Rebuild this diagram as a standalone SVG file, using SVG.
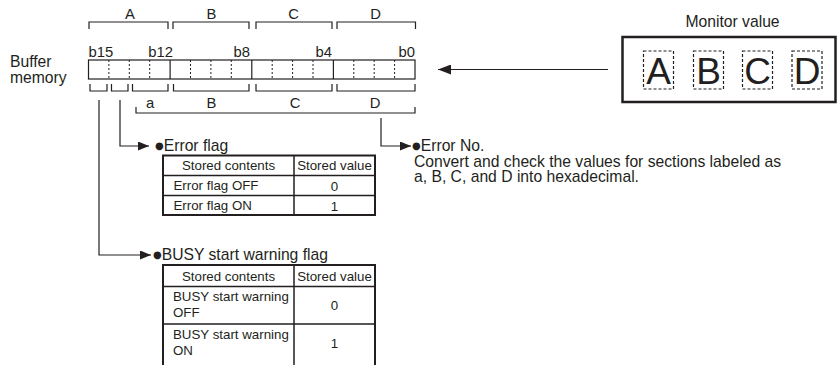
<svg xmlns="http://www.w3.org/2000/svg" width="837" height="365" viewBox="0 0 837 365">
<defs>
<style>
text{font-family:"Liberation Sans",Arial,sans-serif;fill:#231f20}
.t15{font-size:15.7px}
.t14{font-size:14.8px}
.t13{font-size:13.3px}
.bul{font-family:"DejaVu Sans",sans-serif;font-size:10px}
.mid{text-anchor:middle}
.end{text-anchor:end}
.ln{fill:none;stroke:#231f20;stroke-width:1.2}
.dash{fill:none;stroke:#231f20;stroke-width:1;stroke-dasharray:2,2}
.tbl{fill:#fff;stroke:#231f20;stroke-width:2}
.tin{stroke:#231f20;stroke-width:1.5}
.conn{fill:none;stroke:#231f20;stroke-width:1.2}
.box{fill:none;stroke:#231f20;stroke-width:1.2;stroke-dasharray:3,2}
</style>
<marker id="ah" markerUnits="userSpaceOnUse" markerWidth="11" markerHeight="9" refX="11" refY="4.5" orient="auto">
<path d="M0,0 L11,4.5 L0,9 z" fill="#231f20"/>
</marker>
<marker id="ahL" markerUnits="userSpaceOnUse" markerWidth="13" markerHeight="10" refX="13" refY="5" orient="auto">
<path d="M0,0 L13,5 L0,10 z" fill="#231f20"/>
</marker>
</defs>
<rect width="837" height="365" fill="#fff"/>

<g id="buffer-label">
<text class="t15" x="10" y="67">Buffer</text>
<text class="t15" x="10" y="83">memory</text>
</g>

<g id="register">
<g class="t14">
<text class="mid" x="130" y="19">A</text>
<text class="mid" x="211.5" y="19">B</text>
<text class="mid" x="293.5" y="19">C</text>
<text class="mid" x="375.5" y="19">D</text>
</g>
<path class="ln" d="M89,29V22H168V29M173,29V22H249V29M256,29V22H332V29M337,29V22H415.5V29"/>
<g class="t14">
<text x="88.5" y="56.5">b15</text>
<text class="end" x="173" y="56.5">b12</text>
<text class="end" x="250" y="56.5">b8</text>
<text class="end" x="332" y="56.5">b4</text>
<text class="end" x="415" y="56.5">b0</text>
</g>
<path class="dash" d="M108.9,60V79M129.3,60V79M149.7,60V79M190.5,60V79M210.9,60V79M231.3,60V79M272.2,60V79M292.6,60V79M313,60V79M353.8,60V79M374.2,60V79M394.6,60V79"/>
<rect x="88.5" y="60" width="326.5" height="19" class="ln"/>
<path class="ln" d="M170.1,60V79M251.8,60V79M333.4,60V79"/>
<path class="ln" d="M90,84V91H107V84M111.5,84V91H128V84M132.5,84V91H168V84M173.5,84V91H249V84M256,84V91H332V84M337,84V91H415V84"/>
<g class="t14">
<text class="mid" x="150" y="108">a</text>
<text class="mid" x="211.5" y="108">B</text>
<text class="mid" x="295" y="108">C</text>
<text class="mid" x="375" y="108">D</text>
</g>
<path class="ln" d="M136,107V113H415V107"/>
</g>

<g id="connectors">
<path class="conn" d="M99,100V255H151" marker-end="url(#ah)"/>
<path class="conn" d="M120,100V146H149" marker-end="url(#ah)"/>
<path class="conn" d="M381,118V146H411" marker-end="url(#ah)"/>
<path class="conn" d="M608,69.5H438" marker-end="url(#ahL)"/>
</g>

<g id="error-flag">
<text class="t15" x="155" y="151"><tspan class="bul" dy="-2">●</tspan><tspan dy="2">Error flag</tspan></text>
<rect class="tbl" x="163" y="155.5" width="212" height="59.5"/>
<path class="tin" d="M163,175.5H375M163,195.5H375M294,155.5V215"/>
<g class="t13">
<text class="mid" x="228.5" y="170">Stored contents</text>
<text class="mid" x="334.5" y="170">Stored value</text>
<text x="173.5" y="190">Error flag OFF</text>
<text class="mid" x="334.5" y="191">0</text>
<text x="173.5" y="210">Error flag ON</text>
<text class="mid" x="334.5" y="211">1</text>
</g>
</g>

<g id="busy-flag">
<text class="t15" x="153" y="260"><tspan class="bul" dy="-2">●</tspan><tspan dy="2">BUSY start warning flag</tspan></text>
<rect class="tbl" x="163" y="265" width="212" height="110"/>
<path class="tin" d="M163,286.5H375M163,324H375M294,265V370"/>
<g class="t13">
<text class="mid" x="228.5" y="281">Stored contents</text>
<text class="mid" x="334.5" y="281">Stored value</text>
<text x="173" y="301">BUSY start warning</text>
<text x="173" y="317">OFF</text>
<text class="mid" x="334.5" y="310">0</text>
<text x="173" y="339">BUSY start warning</text>
<text x="173" y="355">ON</text>
<text class="mid" x="334.5" y="348">1</text>
</g>
</g>

<g id="error-no">
<text class="t15" x="412" y="150.5"><tspan class="bul" dy="-2">●</tspan><tspan dy="2">Error No.</tspan></text>
<text class="t15" x="414" y="166.5">Convert and check the values for sections labeled as</text>
<text class="t15" x="414" y="182">a, B, C, and D into hexadecimal.</text>
</g>

<g id="monitor-value">
<text class="t15 mid" x="732.5" y="26.5">Monitor value</text>
<rect x="622.5" y="37" width="213" height="65" fill="none" stroke="#231f20" stroke-width="2.5"/>
<rect class="box" x="643.5" y="51" width="30" height="38"/>
<rect class="box" x="693.5" y="51" width="30" height="38"/>
<rect class="box" x="742.5" y="51" width="30" height="38"/>
<rect class="box" x="792" y="51" width="30" height="38"/>
<g font-size="37">
<text class="mid" x="658.5" y="83.5">A</text>
<text class="mid" x="708.5" y="83.5">B</text>
<text class="mid" x="757.5" y="83.5">C</text>
<text class="mid" x="807" y="83.5">D</text>
</g>
</g>
</svg>
